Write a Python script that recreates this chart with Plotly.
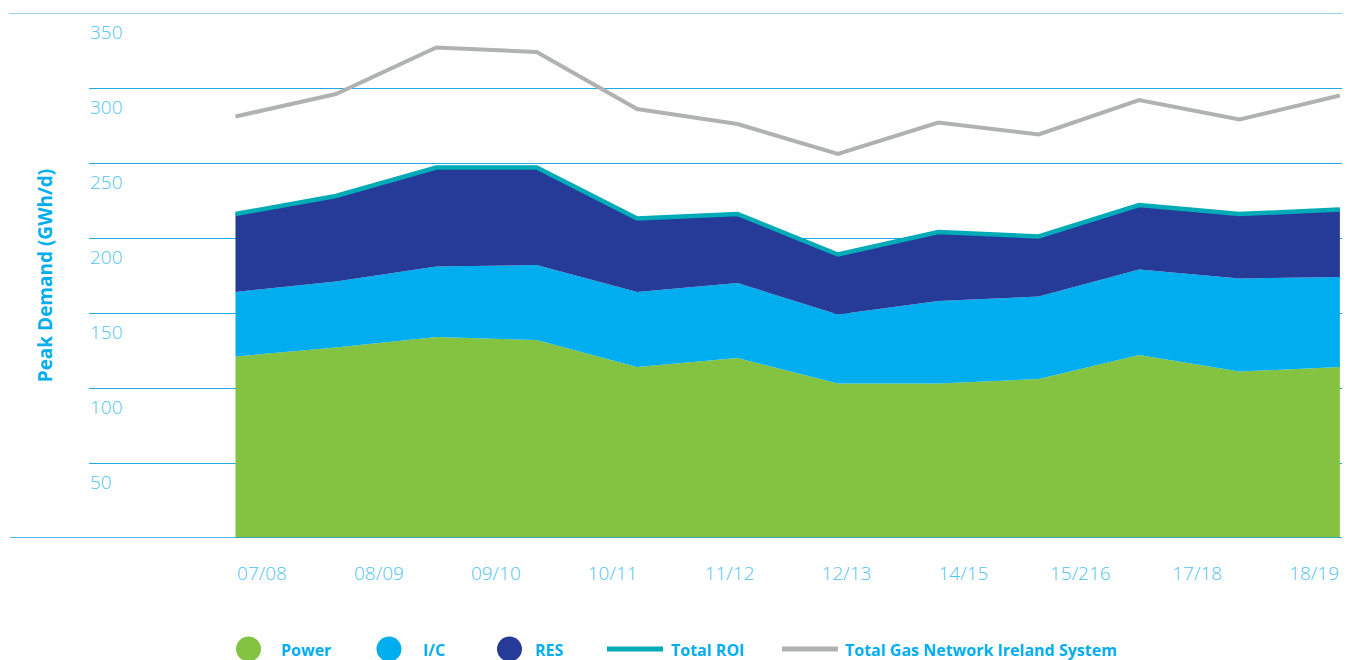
import plotly.graph_objects as go

# ---- data ----
points = list(range(12))  # 12 data points along the x axis
season_labels = ["07/08", "08/09", "09/10", "10/11", "11/12",
                 "12/13", "14/15", "15/216", "17/18", "18/19"]
power = [121, 127, 134, 132, 114, 120, 103, 103, 106, 122, 111, 114]
ic = [43, 44, 47, 50, 50, 50, 46, 55, 55, 57, 62, 60]
res = [52, 57, 66, 65, 49, 46, 40, 46, 40, 43, 43, 45]
total_gni = [281, 296, 327, 324, 286, 276, 256, 277, 269, 292, 279, 295]
total_roi = [p + i + r for p, i, r in zip(power, ic, res)]
y_ticks = [50, 100, 150, 200, 250, 300, 350]

names = ["Power", "I/C", "RES", "Total ROI", "Total Gas Network Ireland System"]
colors = ["#84c341", "#00aeef", "#253b97", "#00abb8", "#b0b2b2"]

# ---- layout geometry (pixels) ----
W, H = 1353, 660
L, R, T, B = 89, 11, 13, 122
PW, PH = W - L - R, H - T - B
BOTTOM = H - B


def px(x):
    return (x - L) / PW


def py(y):
    return (BOTTOM - y) / PH


fig = go.Figure()

for vals, name, col in zip([power, ic, res], names[:3], colors[:3]):
    fig.add_trace(go.Scatter(
        x=points, y=vals, name=name, mode="lines", stackgroup="one",
        line=dict(width=0, color=col), fillcolor=col, showlegend=False))

fig.add_trace(go.Scatter(x=points, y=total_roi, name=names[3], mode="lines",
                         line=dict(color=colors[3], width=4.5), showlegend=False))
fig.add_trace(go.Scatter(x=points, y=total_gni, name=names[4], mode="lines",
                         line=dict(color=colors[4], width=4), showlegend=False))

# dummy trace carrying the season label axis
fig.add_trace(go.Scatter(x=list(range(len(season_labels))), y=[None] * len(season_labels),
                         xaxis="x2", showlegend=False, hoverinfo="skip"))

grid = "#22a9e2"
label_col = "#4fc3f3"
fig.update_layout(
    width=W, height=H,
    margin=dict(l=L, r=R, t=T, b=B),
    paper_bgcolor="white", plot_bgcolor="white",
    font=dict(family="Open Sans", color=label_col),
    xaxis=dict(range=[-1.459, 11.021], showgrid=False, zeroline=False,
               showticklabels=False, showline=False),
    xaxis2=dict(overlaying="x", side="bottom", anchor="y",
                range=[(L - 262) / 116.9, (W - R - 262) / 116.9],
                tickvals=list(range(len(season_labels))), ticktext=season_labels,
                showgrid=False, zeroline=False, showline=False, ticks="",
                tickfont=dict(size=19, color=label_col, family="Open Sans", weight=300),
                ticklabelstandoff=22),
    yaxis=dict(range=[0, 350], tickvals=y_ticks, showgrid=True, gridcolor=grid,
               gridwidth=1.2, zeroline=False, showline=False, ticks="",
               ticklabelposition="inside", ticklabelshift=19, ticklabelstandoff=-2,
               tickfont=dict(size=19, color=label_col, family="Open Sans", weight=300),
               title=dict(text="Peak Demand (GWh/d)", standoff=32,
                          font=dict(size=19, color="#00aeef", family="Open Sans", weight="bold"))),
    showlegend=False,
)

# long top and bottom rules extending to the left
fig.add_shape(type="line", xref="paper", yref="y", x0=px(9), x1=1, y0=350, y1=350,
              line=dict(color=grid, width=1.2), layer="below")
fig.add_shape(type="line", xref="paper", yref="y", x0=px(10), x1=1, y0=0, y1=0,
              line=dict(color="#1a9fd9", width=1.5), layer="above")

# custom legend
leg_y = 649
circle_cx = [248.5, 389, 509.5]
text_x = [279, 421, 533, 669, 843]
for cx, col in zip(circle_cx, colors[:3]):
    fig.add_shape(type="circle", xref="paper", yref="paper",
                  x0=px(cx - 12.5), x1=px(cx + 12.5), y0=py(leg_y + 12.5), y1=py(leg_y - 12.5),
                  fillcolor=col, line=dict(width=0))
for (x0, x1), col in zip([(607, 663), (782, 838)], colors[3:]):
    fig.add_shape(type="line", xref="paper", yref="paper",
                  x0=px(x0), x1=px(x1), y0=py(leg_y), y1=py(leg_y),
                  line=dict(color=col, width=5))
for tx, name in zip(text_x, names):
    fig.add_annotation(text=name, xref="paper", yref="paper", x=px(tx), y=py(leg_y + 1),
                       xanchor="left", yanchor="middle", showarrow=False,
                       font=dict(size=16, color="#00aeef", family="Open Sans", weight="bold"))

fig.write_html("out.html", config={"displayModeBar": False},
               post_script="document.body.style.margin='0';")
